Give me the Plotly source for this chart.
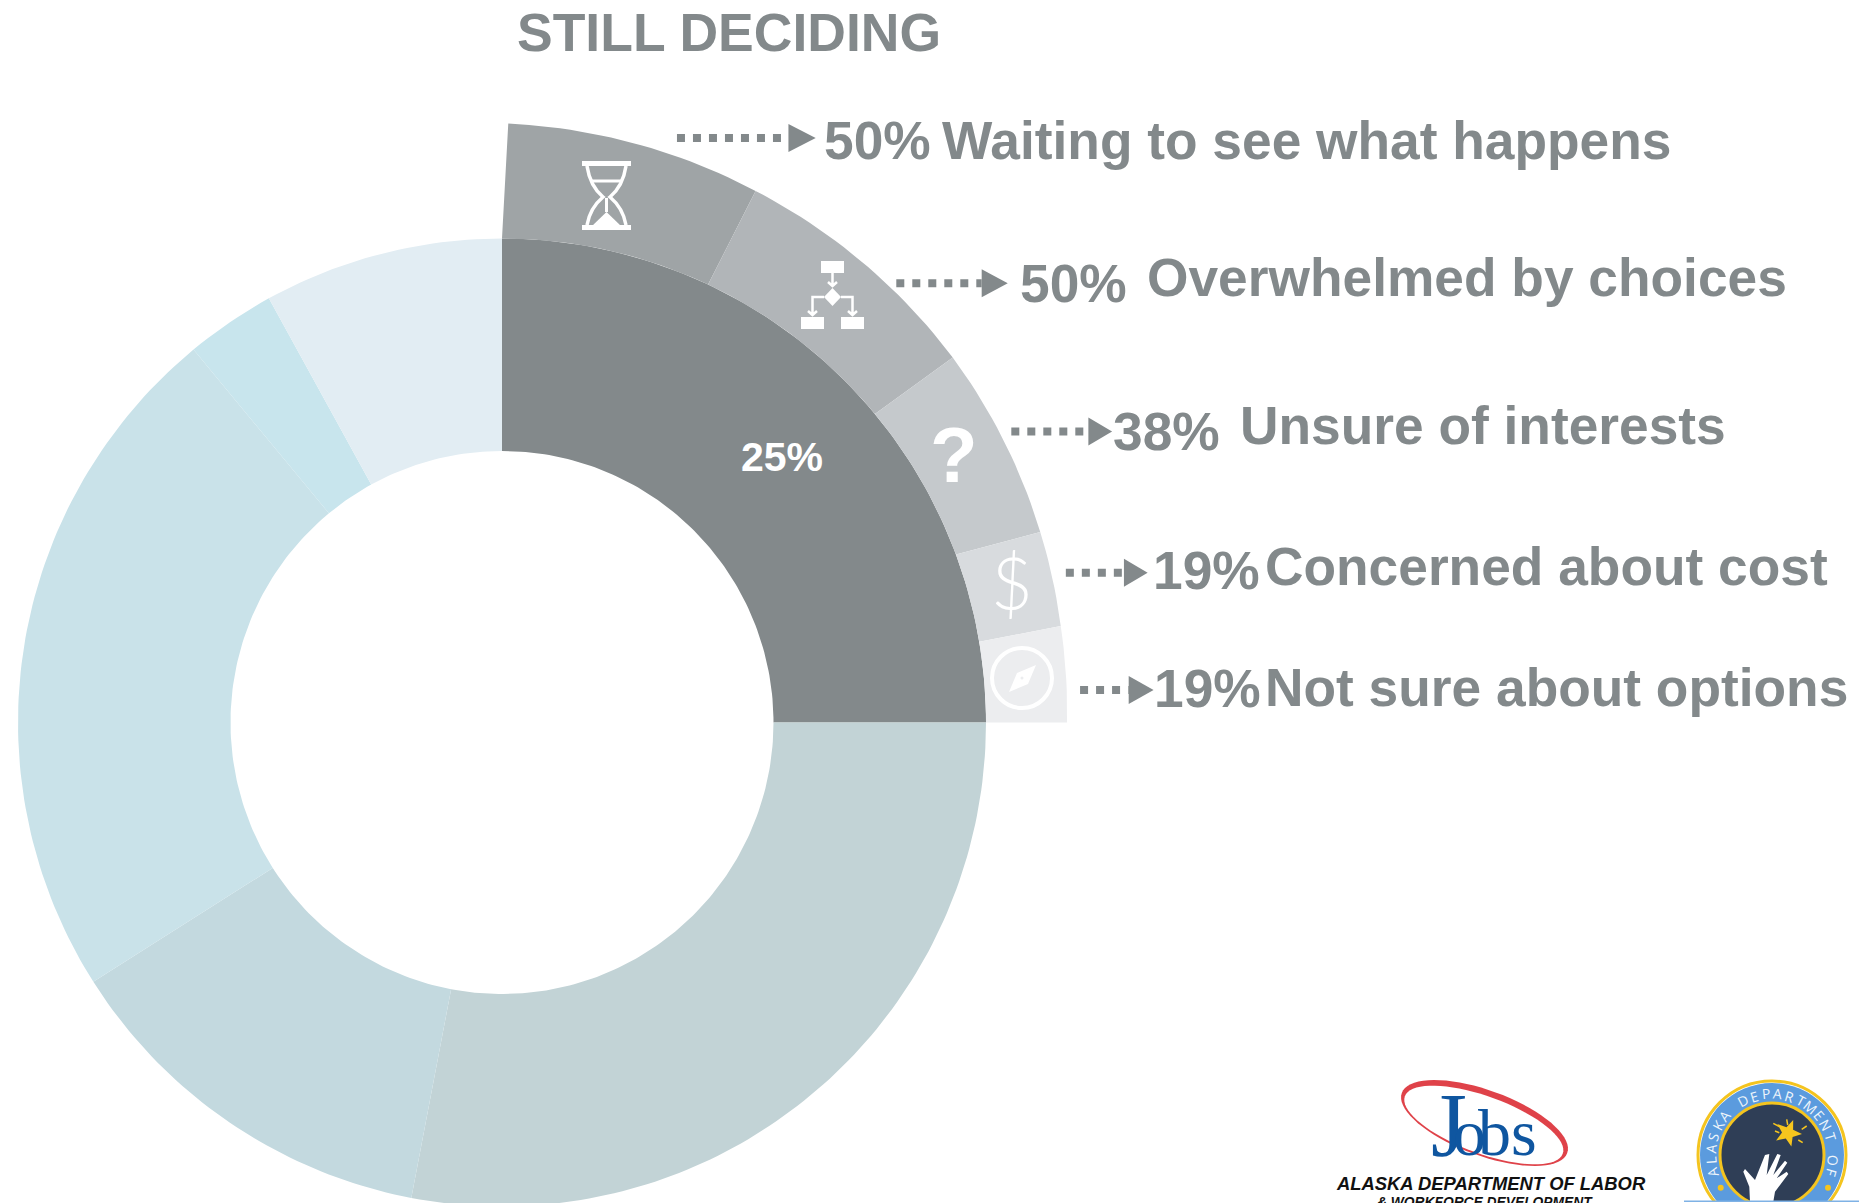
import math
import plotly.graph_objects as go

# ---------- data ----------
ring_labels = ["Still deciding", "Group 2", "Group 3", "Group 4", "Group 5", "Group 6"]
ring_shares = [25, 28, 13, 23, 3, 8]
ring_colors = ["#83898B", "#C2D3D6", "#C3D9DF", "#C9E2E9", "#C8E5ED", "#E2EDF3"]

reason_pct = ["50%", "50%", "38%", "19%", "19%"]
reason_labels = ["Waiting to see what happens", "Overwhelmed by choices", "Unsure of interests",
                 "Concerned about cost", "Not sure about options"]
reason_inner_deg = [0, 25.2, 50.4, 69.7, 80.4, 90]
reason_outer_deg = [0.6, 25.5, 51, 70.5, 80.2, 90]
reason_outer_r = [599, 589, 580, 571, 567, 565]
reason_colors = ["#9FA4A6", "#B1B5B8", "#C5C9CC", "#D8DBDE", "#ECEDEF"]

title_text = "STILL DECIDING"
center_label = "25%"

# ---------- layout constants (pixels) ----------
W, H = 1859, 1203
S = 1859 / 1568
CX, CY, R_OUT, R_IN = 502, 722.5, 484, 271.5
GREY = "#83898B"
FONT = "Liberation Sans"


def pt(r, deg):
    a = math.radians(deg)
    return CX + r * math.sin(a), CY - r * math.cos(a)


def wedge(a0, a1, r0, r1, a0o=None, a1o=None, r0o=None):
    a0o = a0 if a0o is None else a0o
    a1o = a1 if a1o is None else a1o
    r0o = r1 if r0o is None else r0o
    pts = []
    n = max(4, int(abs(a1 - a0)))
    for i in range(n + 1):
        pts.append(pt(r0, a0 + (a1 - a0) * i / n))
    for i in range(n + 1):
        t = i / n
        pts.append(pt(r1 + (r0o - r1) * t, a1o + (a0o - a1o) * t))
    pts.append(pts[0])
    return [p[0] for p in pts], [p[1] for p in pts]


fig = go.Figure()

start = 0
for name, share, col in zip(ring_labels, ring_shares, ring_colors):
    end = start + share * 3.6
    x, y = wedge(start, end, R_IN, R_OUT)
    fig.add_trace(go.Scatter(x=x, y=y, mode="lines", fill="toself", fillcolor=col, line=dict(width=0),
                             name=name, hoverinfo="name", showlegend=False))
    start = end

for i, (name, col) in enumerate(zip(reason_labels, reason_colors)):
    x, y = wedge(reason_inner_deg[i], reason_inner_deg[i + 1], R_OUT, reason_outer_r[i + 1],
                 reason_outer_deg[i], reason_outer_deg[i + 1], reason_outer_r[i])
    fig.add_trace(go.Scatter(x=x, y=y, mode="lines", fill="toself", fillcolor=col, line=dict(width=0),
                             name=name, hoverinfo="name", showlegend=False))

ann = []


def text(t, x, y, size, color=GREY, bold=True, anchor="left", font=FONT, angle=0, italic=False, weight=None):
    s = f"<b>{t}</b>" if bold else t
    if italic:
        s = f"<i>{s}</i>"
    f = dict(family=font, size=size, color=color)
    if weight:
        f["weight"] = weight
    ann.append(dict(text=s, x=x, y=y, xref="x", yref="y", showarrow=False, xanchor=anchor, yanchor="middle",
                    textangle=angle, font=f))


text(title_text, 434 * S, 27 * S, 53.5)
text(center_label, 660 * S, 385.5 * S, 41, color="#FFFFFF", anchor="center")

pct_pos = [(693, 118.5), (859, 239), (937, 364), (971, 481), (972, 581)]
lab_pos = [(793, 118.5), (966, 234), (1044.5, 359), (1065, 478), (1065, 580)]
for p, l, pp, lp in zip(reason_pct, reason_labels, pct_pos, lab_pos):
    text(p, pp[0] * S, pp[1] * S, 53.3)
    text(l, lp[0] * S, lp[1] * S, 53.3)

shapes = []


def path(d, fill=None, line=None, width=0):
    shapes.append(dict(type="path", path=d, xref="x", yref="y", fillcolor=fill or "rgba(0,0,0,0)",
                       line=dict(color=line or "rgba(0,0,0,0)", width=width), layer="above"))


def rect(x0, y0, x1, y1, fill):
    shapes.append(dict(type="rect", x0=x0, y0=y0, x1=x1, y1=y1, xref="x", yref="y", fillcolor=fill,
                       line=dict(width=0), layer="above"))


def circle(cx, cy, r, fill=None, line=None, width=0):
    shapes.append(dict(type="circle", x0=cx - r, y0=cy - r, x1=cx + r, y1=cy + r, xref="x", yref="y",
                       fillcolor=fill or "rgba(0,0,0,0)", line=dict(color=line or "rgba(0,0,0,0)", width=width),
                       layer="above"))


# arrows
arrow_rows = [(571, 665, 688, 116.5), (756, 828, 850, 239), (853, 918, 938, 364), (899, 948, 968, 483), (911, 952, 973, 582)]
for x0, x1, x2, y in arrow_rows:
    xa, xb, xc, yy = x0 * S, x1 * S, x2 * S, y * S
    shapes.append(dict(type="line", x0=xa, x1=xb, y0=yy, y1=yy, xref="x", yref="y", layer="above",
                       line=dict(color=GREY, width=8, dash="8px,8px")))
    path(f"M {xb},{yy-14} L {xc},{yy} L {xb},{yy+14} Z", fill=GREY)

WHITE = "#FFFFFF"
# hourglass
rect(582, 161, 631, 166, WHITE)
rect(582, 225, 631, 230, WHITE)
path("M 587,166 Q 590,186 603,197 Q 590,208 587,225", line=WHITE, width=3.5)
path("M 626,166 Q 623,186 610,197 Q 623,208 626,225", line=WHITE, width=3.5)
path("M 591,181 L 622,181", line=WHITE, width=3)
path("M 606.5,212 L 592,226 L 621,226 Z", fill=WHITE)
path("M 606.5,198 L 606.5,212", line=WHITE, width=3)
# flowchart
rect(821, 261, 844, 273, WHITE)
rect(801, 317, 824, 329, WHITE)
rect(841, 317, 864, 329, WHITE)
path("M 832.5,273 L 832.5,286 M 828,282 L 832.5,286 L 837,282", line=WHITE, width=2.5)
path("M 832.5,288 L 841,297 L 832.5,306 L 824,297 Z", fill=WHITE)
path("M 824,297 L 812.5,297 L 812.5,315 M 808,311 L 812.5,315 L 817,311", line=WHITE, width=2.5)
path("M 841,297 L 852.5,297 L 852.5,315 M 848,311 L 852.5,315 L 857,311", line=WHITE, width=2.5)
# compass
circle(1022, 678, 30, line="#FFFFFF", width=4)
path("M 1036,665 L 1028,684 L 1009,692 L 1017,673 Z", fill=WHITE)
circle(1022, 678, 1.5, fill="#ECEDEF")
text("?", 805 * S, 383.5 * S, 78, color=WHITE, anchor="center")
text("$", 1012, 582, 72, color=WHITE, bold=False, anchor="center", font="Lato", weight=300)

# Jobs logo
RED, BLUE = "#DF4249", "#0F56A0"
ex, ey, rot = 1484.5, 1123, math.radians(20)


def ellipse(cx, cy, a, b):
    cmds = []
    for i in range(73):
        t = math.radians(i * 5)
        u, v = a * math.cos(t), b * math.sin(t)
        px = cx + u * math.cos(rot) - v * math.sin(rot)
        py = cy + u * math.sin(rot) + v * math.cos(rot)
        cmds.append(("M" if i == 0 else "L") + f" {px:.1f},{py:.1f}")
    return " ".join(cmds) + " Z"


path(ellipse(ex, ey, 88, 32.6), fill=RED)
path(ellipse(ex - 0.7, ey + 2, 84, 28.5), fill=WHITE)
text("J", 1449, 1125, 92, color=BLUE, bold=False, anchor="center", font="Liberation Serif")
for ch, lx in zip("obs", (1469, 1494, 1524)):
    text(ch, lx, 1132, 66, color=BLUE, bold=False, anchor="center", font="Liberation Serif")
text("ALASKA DEPARTMENT OF LABOR", 1491, 1183, 18.4, color="#111111", anchor="center", italic=True)
text("&amp; WORKFORCE DEVELOPMENT", 1485, 1202, 13.8, color="#111111", anchor="center", italic=True)

# seal
SX, SY = 1772, 1155
circle(SX, SY, 74, line="#F4C41F", width=3)
circle(SX, SY, 72, fill="#5B9BDE")
circle(SX, SY, 52, fill="#2F3E56", line="#F4C41F", width=3)
star = []
for i in range(10):
    r = 14 if i % 2 == 0 else 6
    a = math.radians(i * 36 + 22)
    star.append(("M" if i == 0 else "L") + f" {1788 + r*math.sin(a):.1f},{1133 - r*math.cos(a):.1f}")
path(" ".join(star) + " Z", fill="#F6C51E")
for (a, b, c, d) in [(340, 190, 358, 200), (345, 213, 358, 218), (380, 178, 383, 195), (425, 208, 440, 198), (415, 240, 428, 248)]:
    path(f"M {1660+a/3:.1f},{1060+b/3:.1f} L {1660+c/3:.1f},{1060+d/3:.1f}", line="#F6C51E", width=1.5)
circle(1720.7, 1187.7, 3, fill="#F4C41F")
circle(1828, 1187.7, 3, fill="#F4C41F")
hand = [(270, 425), (268, 380), (250, 335), (255, 327), (285, 360), (315, 285), (328, 282), (320, 345), (352, 282),
        (362, 285), (340, 345), (375, 302), (382, 308), (350, 355), (380, 335), (385, 342), (345, 395), (340, 425)]
path("M " + " L ".join(f"{1660+a/3:.1f},{1060+b/3:.1f}" for a, b in hand) + " Z", fill=WHITE)
seal_text = "ALASKA DEPARTMENT OF"
n = len(seal_text)
for i, ch in enumerate(seal_text):
    a = -106 + 212 * i / (n - 1)
    rad = math.radians(a)
    if ch != " ":
        text(ch, SX + 61.5 * math.sin(rad), SY - 61.5 * math.cos(rad), 14, color="#EEF5FB", bold=False,
             anchor="center", font="Open Sans", angle=a)
rect(1684, 1201, 1859, 1203, "#FFFFFF")
rect(1684, 1200.5, 1859, 1202, "#7FB2E5")

fig.update_layout(
    width=W, height=H, margin=dict(l=0, r=0, t=0, b=0), paper_bgcolor="white", plot_bgcolor="white",
    xaxis=dict(range=[0, W], visible=False, fixedrange=True),
    yaxis=dict(range=[H, 0], visible=False, fixedrange=True),
    showlegend=False, annotations=ann, shapes=shapes,
)
fig.write_html("out.html", config=dict(displayModeBar=False),
               post_script="document.body.style.margin='0';document.body.style.overflow='hidden';")
